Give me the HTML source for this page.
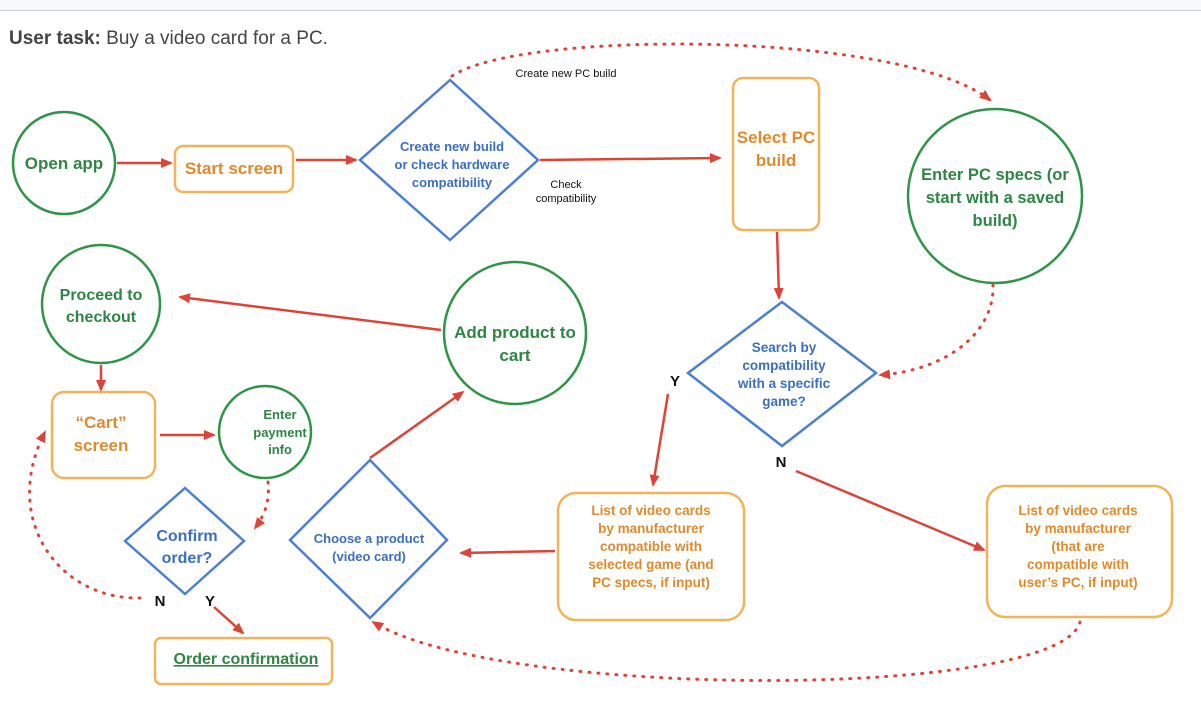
<!DOCTYPE html>
<html><head><meta charset="utf-8"><style>
body{margin:0;background:#fff;font-family:"Liberation Sans",sans-serif}
svg text{font-family:"Liberation Sans",sans-serif;font-weight:bold}
</style></head><body>
<svg width="1201" height="697" viewBox="0 0 1201 697" xmlns="http://www.w3.org/2000/svg">
<defs><marker id="a" markerWidth="12" markerHeight="10" refX="10" refY="5" orient="auto" markerUnits="userSpaceOnUse"><path d="M0,0 L12,5 L0,10z" fill="#dc4437"/></marker></defs>
<rect x="0" y="0" width="1201" height="10" fill="#f8f9fa"/>
<line x1="0" y1="10.5" x2="1201" y2="10.5" stroke="#d0d0d0"/>
<text x="9" y="44" font-size="19" fill="#444">User task: <tspan style="font-weight:normal">Buy a video card for a PC.</tspan></text>
<g fill="none" stroke-width="2.5">
<circle cx="64" cy="163" r="51" stroke="#2e9447"/>
<rect x="175" y="146" width="118" height="46" rx="8" stroke="#f2b45a"/>
<polygon points="450,80 538,160 450,240 360,160" stroke="#4a7fd1"/>
<rect x="733" y="78" width="86" height="152" rx="10" stroke="#f2b45a"/>
<circle cx="995" cy="196" r="87" stroke="#2e9447"/>
<polygon points="782,302 876,373 782,446 688,373" stroke="#4a7fd1"/>
<rect x="558" y="493" width="186" height="127" rx="18" stroke="#f2b45a"/>
<rect x="987" y="486" width="185" height="131" rx="18" stroke="#f2b45a"/>
<polygon points="370,460 447,540 370,618 290,540" stroke="#4a7fd1"/>
<circle cx="515" cy="333" r="71" stroke="#2e9447"/>
<circle cx="101" cy="304" r="59" stroke="#2e9447"/>
<rect x="52" y="392" width="103" height="86" rx="12" stroke="#f2b45a"/>
<circle cx="265" cy="432" r="46" stroke="#2e9447"/>
<polygon points="185,488 244,541 185,594 125,541" stroke="#4a7fd1"/>
<rect x="155" y="638" width="177" height="46" rx="6" stroke="#f2b45a"/>
</g>
<g stroke="#dc4437" stroke-width="2.5" fill="none" marker-end="url(#a)">
<line x1="117" y1="163" x2="171" y2="163"/>
<line x1="296" y1="160" x2="356" y2="160"/>
<line x1="540" y1="160" x2="720" y2="158"/>
<line x1="777" y1="232" x2="779" y2="298"/>
<line x1="668" y1="394" x2="653" y2="485"/>
<line x1="796" y1="471" x2="984" y2="550"/>
<line x1="555" y1="551" x2="461" y2="553"/>
<line x1="370" y1="458" x2="463" y2="392"/>
<line x1="441" y1="330" x2="180" y2="297"/>
<line x1="101" y1="365" x2="101" y2="390"/>
<line x1="160" y1="435" x2="214" y2="435"/>
<line x1="214" y1="607" x2="243" y2="633"/>
</g>
<g stroke="#dc4437" stroke-width="3" fill="none" stroke-dasharray="1 8" stroke-linecap="round">
<path d="M452,76 C520,30 900,30 990,100" marker-end="url(#a)"/>
<path d="M993,285 C995,330 950,370 880,375" marker-end="url(#a)"/>
<path d="M1080,622 C1060,700 500,700 373,622" marker-end="url(#a)"/>
<path d="M268,482 C270,500 265,515 255,528" marker-end="url(#a)"/>
<path d="M140,598 C60,600 0,520 45,432" marker-end="url(#a)"/>
</g>
<g text-anchor="middle">
<text x="64" y="169" font-size="17" fill="#2e8544">Open app</text>
<text x="234" y="174" font-size="17" fill="#e08a2c">Start screen</text>
<text x="452" y="151" font-size="13" fill="#3a6fc0">Create new build</text>
<text x="452" y="169" font-size="13" fill="#3a6fc0">or check hardware</text>
<text x="452" y="187" font-size="13" fill="#3a6fc0">compatibility</text>
<text x="566" y="77" font-size="11" fill="#111" style="font-weight:normal">Create new PC build</text>
<text x="566" y="188" font-size="11" fill="#111" style="font-weight:normal">Check</text>
<text x="566" y="202" font-size="11" fill="#111" style="font-weight:normal">compatibility</text>
<text x="776" y="143" font-size="17" fill="#e08a2c">Select PC</text>
<text x="776" y="166" font-size="17" fill="#e08a2c">build</text>
<text x="995" y="180" font-size="16.5" fill="#2e8544">Enter PC specs (or</text>
<text x="995" y="203" font-size="16.5" fill="#2e8544">start with a saved</text>
<text x="995" y="226" font-size="16.5" fill="#2e8544">build)</text>
<text x="784" y="352" font-size="13.5" fill="#3a6fc0">Search by</text>
<text x="784" y="370" font-size="13.5" fill="#3a6fc0">compatibility</text>
<text x="784" y="388" font-size="13.5" fill="#3a6fc0">with a specific</text>
<text x="784" y="406" font-size="13.5" fill="#3a6fc0">game?</text>
<text x="675" y="386" font-size="15" fill="#111">Y</text>
<text x="781" y="467" font-size="15" fill="#111">N</text>
<text x="651" y="515" font-size="13.5" fill="#e08a2c">List of video cards</text>
<text x="651" y="533" font-size="13.5" fill="#e08a2c">by manufacturer</text>
<text x="651" y="551" font-size="13.5" fill="#e08a2c">compatible with</text>
<text x="651" y="569" font-size="13.5" fill="#e08a2c">selected game (and</text>
<text x="651" y="587" font-size="13.5" fill="#e08a2c">PC specs, if input)</text>
<text x="1078" y="515" font-size="13.5" fill="#e08a2c">List of video cards</text>
<text x="1078" y="533" font-size="13.5" fill="#e08a2c">by manufacturer</text>
<text x="1078" y="551" font-size="13.5" fill="#e08a2c">(that are</text>
<text x="1078" y="569" font-size="13.5" fill="#e08a2c">compatible with</text>
<text x="1078" y="587" font-size="13.5" fill="#e08a2c">user’s PC, if input)</text>
<text x="369" y="543" font-size="13" fill="#3a6fc0">Choose a product</text>
<text x="369" y="561" font-size="13" fill="#3a6fc0">(video card)</text>
<text x="515" y="338" font-size="17" fill="#2e8544">Add product to</text>
<text x="515" y="361" font-size="17" fill="#2e8544">cart</text>
<text x="101" y="300" font-size="16" fill="#2e8544">Proceed to</text>
<text x="101" y="322" font-size="16" fill="#2e8544">checkout</text>
<text x="101" y="428" font-size="17" fill="#e08a2c">“Cart”</text>
<text x="101" y="451" font-size="17" fill="#e08a2c">screen</text>
<text x="280" y="419" font-size="13" fill="#2e8544">Enter</text>
<text x="280" y="437" font-size="13" fill="#2e8544">payment</text>
<text x="280" y="454" font-size="13" fill="#2e8544">info</text>
<text x="187" y="541" font-size="16" fill="#3a6fc0">Confirm</text>
<text x="187" y="563" font-size="16" fill="#3a6fc0">order?</text>
<text x="160" y="606" font-size="15" fill="#111">N</text>
<text x="210" y="606" font-size="15" fill="#111">Y</text>
<text x="246" y="664" font-size="16" fill="#2e8544" text-decoration="underline">Order confirmation</text>
</g>
</svg>
</body></html>
